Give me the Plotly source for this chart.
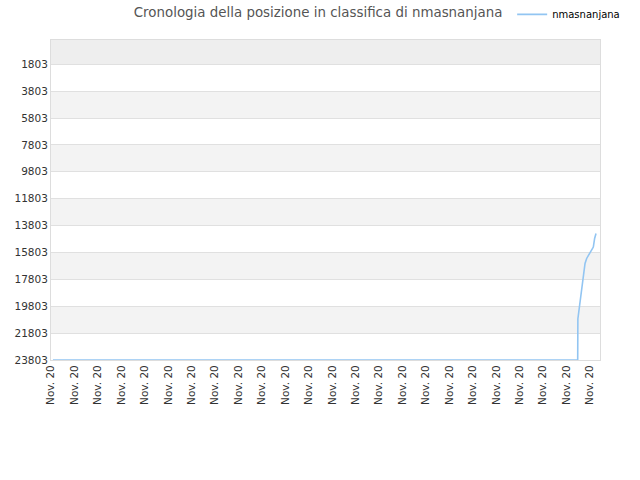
import plotly.graph_objects as go

# ---------------------------------------------------------
# DATA
# ---------------------------------------------------------
player = "nmasnanjana"
dates = [
    "2020-11-01 02:00", "2020-11-23 11:30", "2020-11-23 11:40",
    "2020-11-23 12:55", "2020-11-23 14:40", "2020-11-23 15:50",
    "2020-11-23 17:15", "2020-11-23 19:00", "2020-11-23 20:40",
    "2020-11-24 00:00", "2020-11-24 03:30", "2020-11-24 04:50",
    "2020-11-24 06:15",
]
ranks = [23803, 23803, 20750, 20050, 19140, 18110, 17370,
         16620, 16250, 15880, 15400, 14760, 14400]
rank_ticks = [1803, 3803, 5803, 7803, 9803, 11803, 13803,
              15803, 17803, 19803, 21803, 23803]

# ---------------------------------------------------------
# FIGURE
# ---------------------------------------------------------
fig = go.Figure()
fig.add_trace(go.Scatter(
    x=dates, y=ranks, mode='lines', name=player,
    line=dict(color='#92c5f2', width=1.6)
))

# alternating horizontal bands
edges = [0] + rank_ticks
shapes = []
for i in range(len(edges) - 1):
    if i == 0:
        col = '#eeeeee'
    elif i % 2 == 0:
        col = '#f3f3f3'
    else:
        continue
    shapes.append(dict(type='rect', xref='paper', yref='y', x0=0, x1=1,
                       y0=edges[i], y1=edges[i + 1], fillcolor=col,
                       line=dict(width=0), layer='below'))

fig.update_layout(
    width=640, height=480,
    font=dict(family='DejaVu Sans', color='#333333', size=10),
    title=dict(text='Cronologia della posizione in classifica di ' + player,
               x=0.497, xanchor='center', y=0.975, yanchor='middle',
               font=dict(size=13.4, color='#555555')),
    showlegend=True,
    legend=dict(orientation='h', x=0.84, y=0.97, xanchor='left', yanchor='middle',
                yref='container', font=dict(size=10, color='#000000'),
                bgcolor='rgba(0,0,0,0)', itemwidth=30),
    margin=dict(l=51, r=40, t=40, b=120, autoexpand=False),
    paper_bgcolor='white', plot_bgcolor='white',
    shapes=shapes,
    xaxis=dict(
        type='date', range=['2020-11-01 00:00', '2020-11-24 10:20'],
        tick0='2020-11-01', dtick=86400000, tickformat='%b. %y',
        tickangle=-90, showgrid=False, showline=True, linecolor='#dddddd',
        mirror=True, ticks='', automargin=False,
        tickfont=dict(size=10.5, color='#333333'),
    ),
    yaxis=dict(
        range=[23803, 0], tickvals=rank_ticks, ticktext=[str(v) for v in rank_ticks],
        showgrid=True, gridcolor='#e0e0e0', showline=True, linecolor='#dddddd',
        mirror=True, zeroline=False, ticks='', automargin=False,
        tickfont=dict(size=10.5, color='#333333'),
    ),
)

fig.write_html("out.html", config=dict(displayModeBar=False),
               post_script="document.body.style.margin='0';")
